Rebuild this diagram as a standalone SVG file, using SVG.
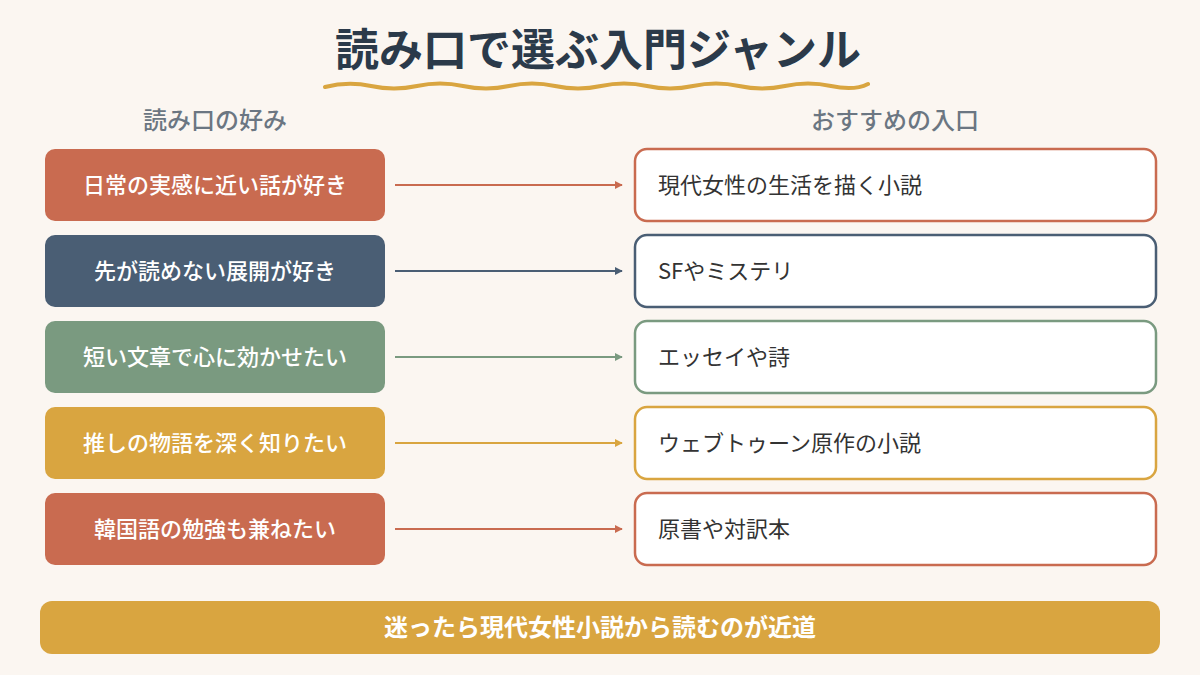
<svg xmlns="http://www.w3.org/2000/svg" width="1200" height="675" viewBox="0 0 1200 675">
<defs>
<style>
text{font-family:"Noto Sans CJK JP","Noto Sans",sans-serif}
.l{fill:#fff;font-size:22px;font-weight:500}
.r{fill:#333;font-size:22px}
.h{fill:#6B7682;font-size:24px;font-weight:500}
.rb{fill:#fff;stroke-width:2.5}
</style>
<marker id="a1" viewBox="0 0 10 10" refX="9" refY="5" markerWidth="8" markerHeight="8" markerUnits="userSpaceOnUse" orient="auto"><path d="M0,0L10,5L0,10z" fill="#C96B50"/></marker>
<marker id="a2" viewBox="0 0 10 10" refX="9" refY="5" markerWidth="8" markerHeight="8" markerUnits="userSpaceOnUse" orient="auto"><path d="M0,0L10,5L0,10z" fill="#4A5E74"/></marker>
<marker id="a3" viewBox="0 0 10 10" refX="9" refY="5" markerWidth="8" markerHeight="8" markerUnits="userSpaceOnUse" orient="auto"><path d="M0,0L10,5L0,10z" fill="#7A9A80"/></marker>
<marker id="a4" viewBox="0 0 10 10" refX="9" refY="5" markerWidth="8" markerHeight="8" markerUnits="userSpaceOnUse" orient="auto"><path d="M0,0L10,5L0,10z" fill="#D9A540"/></marker>
</defs>
<rect width="1200" height="675" fill="#FBF6F1"/>
<text x="598" y="66" text-anchor="middle" font-size="44" font-weight="700" fill="#2B3A4A">読み口で選ぶ入門ジャンル</text>
<path d="M325,87 Q348,81 371,86 T417,86 T463,86 T509,86 T555,86 T601,86 T647,86 T693,86 T739,86 T785,86 T831,86 T868,84" fill="none" stroke="#D9A540" stroke-width="4" stroke-linecap="round"/>
<text class="h" x="215" y="129" text-anchor="middle">読み口の好み</text>
<text class="h" x="895" y="129" text-anchor="middle">おすすめの入口</text>
<g id="connectors" stroke-width="2" fill="none">
<path d="M395,185H622" stroke="#C96B50" marker-end="url(#a1)"/>
<path d="M395,271H622" stroke="#4A5E74" marker-end="url(#a2)"/>
<path d="M395,357H622" stroke="#7A9A80" marker-end="url(#a3)"/>
<path d="M395,443H622" stroke="#D9A540" marker-end="url(#a4)"/>
<path d="M395,529H622" stroke="#C96B50" marker-end="url(#a1)"/>
</g>
<g id="l1"><rect x="45" y="149" width="340" height="72" rx="10" fill="#C96B50"/><text class="l" x="215" y="193" text-anchor="middle">日常の実感に近い話が好き</text></g>
<g id="l2"><rect x="45" y="235" width="340" height="72" rx="10" fill="#4A5E74"/><text class="l" x="215" y="279" text-anchor="middle">先が読めない展開が好き</text></g>
<g id="l3"><rect x="45" y="321" width="340" height="72" rx="10" fill="#7A9A80"/><text class="l" x="215" y="365" text-anchor="middle">短い文章で心に効かせたい</text></g>
<g id="l4"><rect x="45" y="407" width="340" height="72" rx="10" fill="#D9A540"/><text class="l" x="215" y="451" text-anchor="middle">推しの物語を深く知りたい</text></g>
<g id="l5"><rect x="45" y="493" width="340" height="72" rx="10" fill="#C96B50"/><text class="l" x="215" y="537" text-anchor="middle">韓国語の勉強も兼ねたい</text></g>
<g id="r1"><rect class="rb" x="635" y="149" width="521" height="72" rx="12" stroke="#C96B50"/><text class="r" x="658" y="193">現代女性の生活を描く小説</text></g>
<g id="r2"><rect class="rb" x="635" y="235" width="521" height="72" rx="12" stroke="#4A5E74"/><text class="r" x="658" y="279">SFやミステリ</text></g>
<g id="r3"><rect class="rb" x="635" y="321" width="521" height="72" rx="12" stroke="#7A9A80"/><text class="r" x="658" y="365">エッセイや詩</text></g>
<g id="r4"><rect class="rb" x="635" y="407" width="521" height="72" rx="12" stroke="#D9A540"/><text class="r" x="658" y="451">ウェブトゥーン原作の小説</text></g>
<g id="r5"><rect class="rb" x="635" y="493" width="521" height="72" rx="12" stroke="#C96B50"/><text class="r" x="658" y="537">原書や対訳本</text></g>
<g id="bottom"><rect x="40" y="601" width="1120" height="53" rx="12" fill="#D9A540"/><text x="600" y="636" text-anchor="middle" font-size="24" font-weight="700" fill="#fff">迷ったら現代女性小説から読むのが近道</text></g>
</svg>
